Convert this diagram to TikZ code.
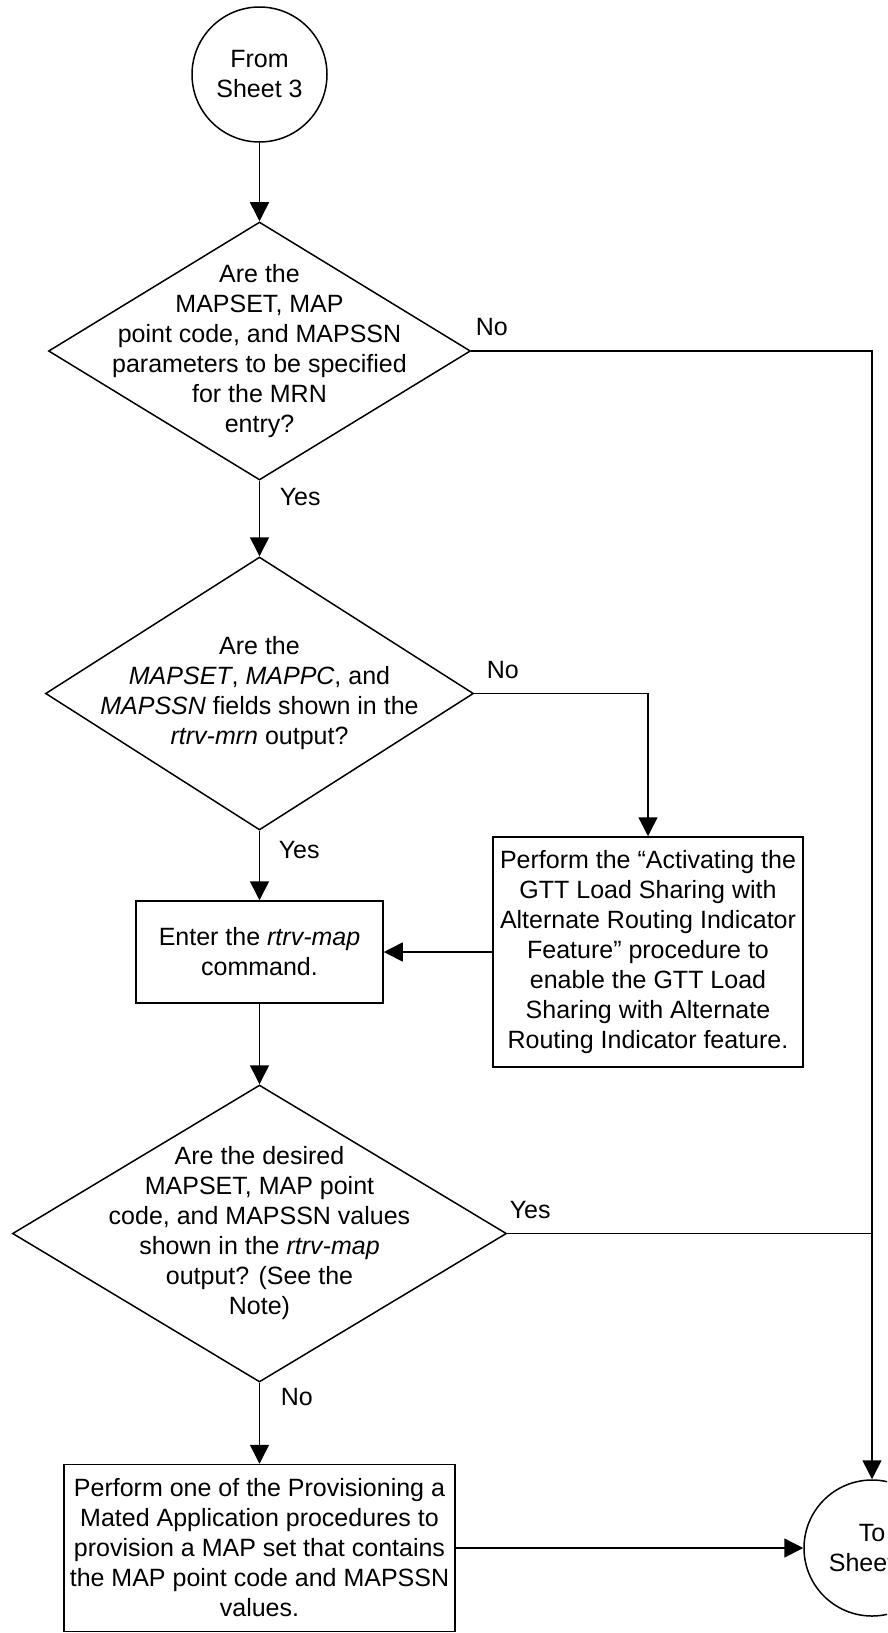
\documentclass[tikz,border=0pt]{standalone}
\usepackage{fontspec}
\setmainfont{Liberation Sans}
\usetikzlibrary{shapes.geometric,arrows.meta}
\begin{document}
\begin{tikzpicture}[x=1pt,y=-1pt,line width=1.5pt,
  every node/.style={font=\fontsize{25}{30}\selectfont, inner sep=0pt},
  txt/.style={align=center},
  dia/.style={draw, diamond, inner sep=0pt},
  box/.style={draw, rectangle, align=center},
  conn/.style={draw, circle, align=center},
  arr/.style={-{Triangle[length=19pt,width=19pt]}},
  lab/.style={anchor=base west}]
\useasboundingbox (0,0) rectangle (887,1633);
\clip (0,0) rectangle (887,1633);

% nodes
\node[conn, minimum size=135pt] (c1) at (259.5,74.5) {From\\Sheet 3};

\node[dia, minimum width=422pt, minimum height=258pt] (d1) at (259.5,351) {};
\node[txt] (d1t) at (d1.center) {Are the\\MAPSET, MAP\\point code, and MAPSSN\\parameters to be specified\\for the MRN\\entry?};

\node[dia, minimum width=428pt, minimum height=273pt] (d2) at (259.5,693.5) {};
\node[txt] (d2t) at (d2.center) {Are the\\\textit{MAPSET}, \textit{MAPPC}, and\\\textit{MAPSSN} fields shown in the\\\textit{rtrv-mrn} output?};

\node[box, minimum width=310pt, minimum height=230pt] (rb) at (648,952) {Perform the “Activating the\\GTT Load Sharing with\\Alternate Routing Indicator\\Feature” procedure to\\enable the GTT Load\\Sharing with Alternate\\Routing Indicator feature.};

\node[box, minimum width=247pt, minimum height=102pt] (eb) at (259.5,952) {Enter the \textit{rtrv-map}\\command.};

\node[dia, minimum width=494pt, minimum height=297pt] (d3) at (259.5,1233.5) {};
\node[txt] (d3t) at (d3.center) {Are the desired\\MAPSET, MAP point\\code, and MAPSSN values\\shown in the \textit{rtrv-map}\\output? (See the\\Note)};

\node[box, minimum width=391pt, minimum height=167pt] (bb) at (259.5,1548) {Perform one of the Provisioning a\\Mated Application procedures to\\provision a MAP set that contains\\the MAP point code and MAPSSN\\values.};

\node[conn, minimum size=136pt] (c2) at (872,1548) {To\\Sheet 5};

\coordinate (j1) at (872,351);
\coordinate (j3) at (872,1233.5);

% connectors
\draw[arr] (c1) -- (d1);
\draw[arr] (d1.east) -- (j1) -- (c2.north);
\draw[arr] (d1.south) -- (d2.north);
\draw[arr] (d2.east) -| (rb.north);
\draw[arr] (d2.south) -- (eb.north);
\draw[arr] (rb.west) -- (eb.east);
\draw[arr] (eb.south) -- (d3.north);
\draw (d3.east) -- (j3);
\draw[arr] (d3.south) -- (bb.north);
\draw[arr] (bb.east) -- (c2.west);

% labels
\node[lab] (l1) at (475,335) {No};
\node[lab] (l2) at (279,505) {Yes};
\node[lab] (l3) at (486,678) {No};
\node[lab] (l4) at (278,858) {Yes};
\node[lab] (l5) at (509,1218) {Yes};
\node[lab] (l6) at (280,1405) {No};
\end{tikzpicture}
\end{document}
